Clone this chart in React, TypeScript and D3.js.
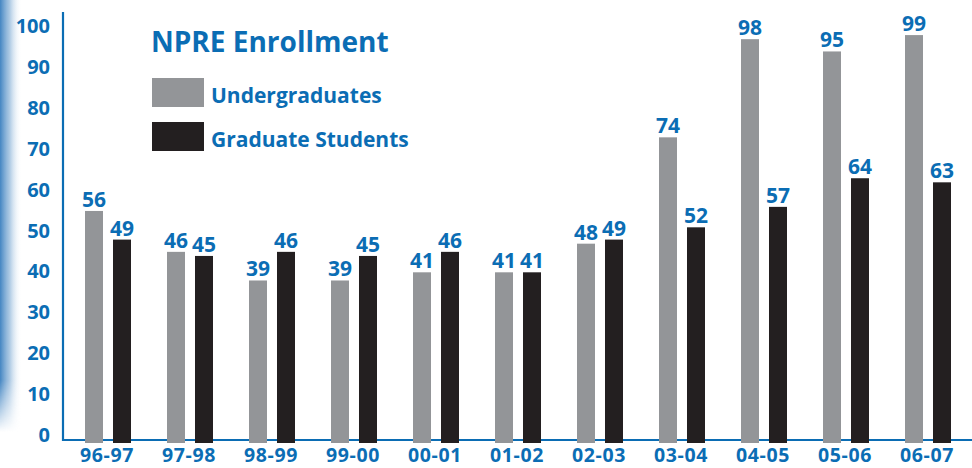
import React, { useEffect, useRef } from 'react';
import * as d3 from 'd3';

const years = ['96-97', '97-98', '98-99', '99-00', '00-01', '01-02', '02-03', '03-04', '04-05', '05-06', '06-07'];
const undergrads = [56, 46, 39, 39, 41, 41, 48, 74, 98, 95, 99];
const grads = [49, 45, 46, 45, 46, 41, 49, 52, 57, 64, 63];
const yTicks = [0, 10, 20, 30, 40, 50, 60, 70, 80, 90, 100];
const seriesNames = ['Undergraduates', 'Graduate Students'];

const BLUE = '#0b6db4';
const GRAY = '#939598';
const BLACK = '#231f20';
const FONT = '"Open Sans", "Noto Sans", sans-serif';

const App = () => {
  const svgRef = useRef<SVGSVGElement>(null);

  useEffect(() => {
    const svg = d3.select(svgRef.current);
    svg.selectAll('*').remove();

    const width = 972;

    // left edge fade strip
    const defs = svg.append('defs');
    const grad = defs.append('linearGradient').attr('id', 'edge-fade')
      .attr('x1', '0%').attr('x2', '100%').attr('y1', '0%').attr('y2', '0%');
    grad.append('stop').attr('offset', '0%').attr('stop-color', '#3a7fbf').attr('stop-opacity', 0.95);
    grad.append('stop').attr('offset', '45%').attr('stop-color', '#8fb6da').attr('stop-opacity', 0.7);
    grad.append('stop').attr('offset', '100%').attr('stop-color', '#ffffff').attr('stop-opacity', 0);
    const vgrad = defs.append('linearGradient').attr('id', 'edge-mask-grad')
      .attr('x1', '0%').attr('x2', '0%').attr('y1', '0%').attr('y2', '100%');
    vgrad.append('stop').attr('offset', '0%').attr('stop-color', '#fff');
    vgrad.append('stop').attr('offset', '88%').attr('stop-color', '#fff');
    vgrad.append('stop').attr('offset', '100%').attr('stop-color', '#000');
    defs.append('mask').attr('id', 'edge-mask')
      .append('rect').attr('x', 0).attr('y', 0).attr('width', 30).attr('height', 432)
      .attr('fill', 'url(#edge-mask-grad)');
    svg.append('rect')
      .attr('x', 0).attr('y', 0).attr('width', 22).attr('height', 432)
      .attr('fill', 'url(#edge-fade)')
      .attr('mask', 'url(#edge-mask)');

    const x0 = d3.scaleBand().domain(years).range([66, 968]);
    const x1 = d3.scaleBand().domain(seriesNames).range([19, 65]).paddingInner(0.357);
    const y = d3.scaleLinear().domain([0, 100]).range([440, 31]);

    // axes lines
    svg.append('line')
      .attr('x1', 63).attr('x2', 63).attr('y1', 12).attr('y2', 441)
      .attr('stroke', BLUE).attr('stroke-width', 2.2);
    svg.append('line')
      .attr('x1', 62).attr('x2', width).attr('y1', y(0)).attr('y2', y(0))
      .attr('stroke', BLUE).attr('stroke-width', 2.2);

    // y tick labels
    svg.append('g').selectAll('text').data(yTicks).join('text')
      .attr('x', 50).attr('y', d => y(d) + 2)
      .attr('text-anchor', 'end')
      .attr('fill', BLUE).attr('font-family', FONT).attr('font-weight', 700).attr('font-size', 20)
      .text(d => d);

    // x labels
    svg.append('g').selectAll('text').data(years).join('text')
      .attr('x', d => (x0(d) as number) + x0.bandwidth() / 2)
      .attr('y', 462)
      .attr('text-anchor', 'middle')
      .attr('fill', BLUE).attr('font-family', FONT).attr('font-weight', 700).attr('font-size', 19.5)
      .attr('letter-spacing', 0.6)
      .text(d => d);

    const rows = years.map((yr, i) => ({ yr, vals: [undergrads[i], grads[i]] }));
    const colors = [GRAY, BLACK];

    const groups = svg.append('g').selectAll('g').data(rows).join('g')
      .attr('transform', d => `translate(${x0(d.yr)},0)`);

    groups.selectAll('rect')
      .data(d => d.vals.map((v, k) => ({ k, v })))
      .join('rect')
      .attr('x', d => x1(seriesNames[d.k]) as number)
      .attr('width', x1.bandwidth())
      .attr('y', d => y(d.v))
      .attr('height', d => y(0) - y(d.v) + 3)
      .attr('fill', d => colors[d.k]);

    groups.selectAll('text')
      .data(d => d.vals.map((v, k) => ({ k, v })))
      .join('text')
      .attr('x', d => (x1(seriesNames[d.k]) as number) + x1.bandwidth() / 2)
      .attr('y', d => y(d.v) - 4)
      .attr('text-anchor', 'middle')
      .attr('fill', BLUE).attr('font-family', FONT).attr('font-weight', 700).attr('font-size', 21)
      .text(d => d.v);

    // title and legend
    svg.append('text')
      .attr('x', 151).attr('y', 52)
      .attr('fill', BLUE).attr('font-family', FONT).attr('font-weight', 700).attr('font-size', 28)
      .text('NPRE Enrollment');

    const legend = svg.append('g').selectAll('g').data(seriesNames).join('g')
      .attr('transform', (d, i) => `translate(152,${78 + i * 44})`);
    legend.append('rect')
      .attr('width', 52).attr('height', 29)
      .attr('fill', (d, i) => colors[i]);
    legend.append('text')
      .attr('x', 59).attr('y', 25)
      .attr('fill', BLUE).attr('font-family', FONT).attr('font-weight', 700).attr('font-size', 21)
      .text(d => d);
  }, []);

  return (
    <svg ref={svgRef} width={972} height={468} viewBox="0 0 972 468"
      style={{ position: 'absolute', left: 0, top: 0, background: '#fff' }} />
  );
};

export default App;
